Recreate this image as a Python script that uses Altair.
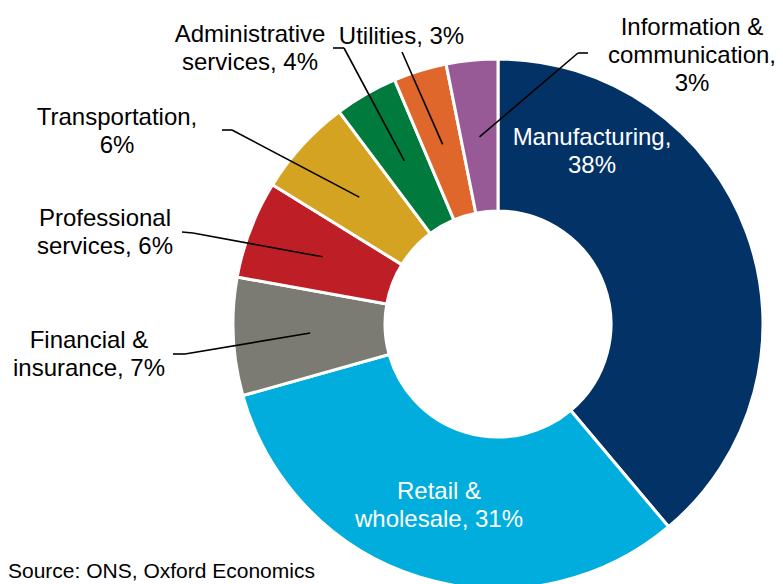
import math
import altair as alt
import pandas as pd

# ---- data ----
categories = [
    "Manufacturing",
    "Retail & wholesale",
    "Financial & insurance",
    "Professional services",
    "Transportation",
    "Administrative services",
    "Utilities",
    "Information & communication",
]
shares = [38.4, 31.4, 7.1, 5.9, 5.9, 3.8, 3.2, 3.1]
label_stems = [
    "Manufacturing,\n",
    "Retail &\nwholesale, ",
    "Financial &\ninsurance, ",
    "Professional\nservices, ",
    "Transportation,\n",
    "Administrative\nservices, ",
    "Utilities, ",
    "Information &\ncommunication,\n",
]
source_text = "Source: ONS, Oxford Economics"

# ---- styles ----
colors = ["#033366", "#00ADDC", "#7B7B74", "#BE1E26", "#D3A321",
          "#007A3D", "#E0672B", "#985A96"]
FONT = "Liberation Sans"
FS = 24
LH = 28
W, H = 767, 576
CX, CY = 490, 316
R_OUT, R_IN = 265, 113
R_LEAD = 188

# ---- layout (chart pixel positions of the label block centres) ----
label_pos = {
    "Manufacturing": (584, 144),
    "Retail & wholesale": (431, 498),
    "Financial & insurance": (81, 346.5),
    "Professional services": (97, 224.5),
    "Transportation": (109, 123.5),
    "Administrative services": (242, 40.5),
    "Utilities": (393.5, 28.5),
    "Information & communication": (684, 47.7),
}
inside = {"Manufacturing", "Retail & wholesale"}
# leader start point and elbow
leaders = {
    "Financial & insurance": ((165, 346), (177, 346)),
    "Professional services": ((174, 224), (185, 225)),
    "Transportation": ((214, 122), (224, 122)),
    "Administrative services": ((325, 40), (336, 40)),
    "Utilities": ((394, 44), (394, 44)),
    "Information & communication": ((580, 45), (570, 45)),
}

total = sum(shares)
labels = [s + f"{round(v)}%" for s, v in zip(label_stems, shares)]
df = pd.DataFrame({
    "category": categories,
    "share": shares,
    "idx": list(range(len(categories))),
    "label": labels,
})
df["lx"] = [label_pos[c][0] for c in categories]
# first-line position so that the block is centred on the layout point
df["ly"] = [label_pos[c][1] - (lab.count("\n")) * LH / 2 for c, lab in zip(categories, labels)]

# slice mid-angles from the data
cum = 0.0
mid_pts = {}
for c, v in zip(categories, shares):
    a = (cum + v / 2) / total * 2 * math.pi
    mid_pts[c] = (CX + R_LEAD * math.sin(a), CY - R_LEAD * math.cos(a))
    cum += v

rows = []
for c, (start, elbow) in leaders.items():
    end = mid_pts[c]
    if start != elbow:
        rows.append({"x": start[0], "y": start[1], "x2": elbow[0], "y2": elbow[1]})
    rows.append({"x": elbow[0], "y": elbow[1], "x2": end[0], "y2": end[1]})
lines_df = pd.DataFrame(rows)

xs = alt.Scale(domain=[0, W], range=[0, W], nice=False, zero=False)
ys = alt.Scale(domain=[0, H], range=[0, H], nice=False, zero=False)

arcs = alt.Chart(df).mark_arc(
    innerRadius=R_IN, outerRadius=R_OUT, stroke="white", strokeWidth=3
).encode(
    theta=alt.Theta("share:Q", stack=True),
    order=alt.Order("idx:Q", sort="ascending"),
    color=alt.Color("category:N", scale=alt.Scale(domain=categories, range=colors), legend=None),
    x=alt.value(CX),
    y=alt.value(CY),
)

rules = alt.Chart(lines_df).mark_rule(color="black", strokeWidth=1.6).encode(
    x=alt.X("x:Q", scale=xs, axis=None),
    y=alt.Y("y:Q", scale=ys, axis=None),
    x2="x2:Q",
    y2="y2:Q",
)

text_in = alt.Chart(df[df["category"].isin(inside)]).mark_text(
    font=FONT, fontSize=FS, lineHeight=LH, lineBreak="\n",
    align="center", baseline="middle", color="white"
).encode(
    x=alt.X("lx:Q", scale=xs, axis=None),
    y=alt.Y("ly:Q", scale=ys, axis=None),
    text="label:N",
)

text_out = alt.Chart(df[~df["category"].isin(inside)]).mark_text(
    font=FONT, fontSize=FS, lineHeight=LH, lineBreak="\n",
    align="center", baseline="middle", color="black"
).encode(
    x=alt.X("lx:Q", scale=xs, axis=None),
    y=alt.Y("ly:Q", scale=ys, axis=None),
    text="label:N",
)

src = alt.Chart(pd.DataFrame({"t": [source_text], "x": [0], "y": [564]})).mark_text(
    font=FONT, fontSize=21, align="left", baseline="middle", color="black"
).encode(
    x=alt.X("x:Q", scale=xs, axis=None),
    y=alt.Y("y:Q", scale=ys, axis=None),
    text="t:N",
)

chart = alt.layer(arcs, rules, text_in, text_out, src).properties(
    width=W, height=H, autosize="none", padding=0
).configure_view(stroke=None)

chart.save("out.html", embed_options={"renderer": "svg", "actions": False})
